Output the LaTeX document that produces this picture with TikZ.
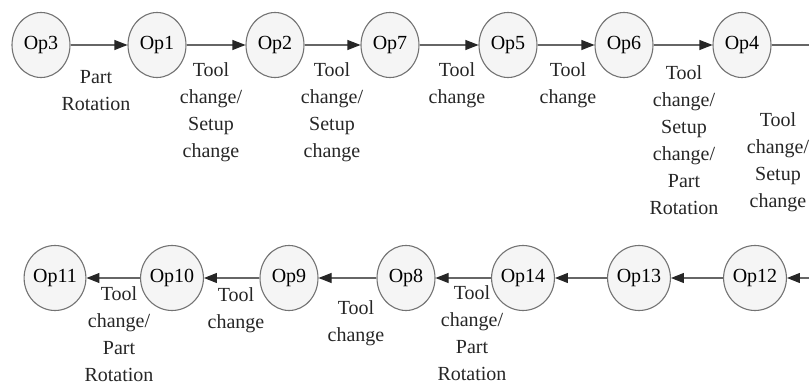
\documentclass[tikz,border=0pt]{standalone}
\usepackage{fontspec}
\setmainfont{Liberation Serif}
\newfontfamily\diagfont{Liberation Serif}
\usetikzlibrary{shapes.geometric,arrows.meta}
\tikzset{
  opnode/.style={ellipse, draw=black!55, line width=1.1pt, fill=black!4,
    minimum width=58pt, minimum height=65pt, inner sep=0pt,
    font=\diagfont\fontsize{20}{24}\selectfont},
  flow/.style={draw=black!60, line width=1.1pt,
    -{Triangle[length=13pt,width=10pt,color=black!85,fill=black!85]}},
  plain/.style={draw=black!60, line width=1.1pt},
  lbl/.style={anchor=north, align=center, inner sep=0pt, text=black!85,
    font=\diagfont\fontsize{20}{27}\selectfont}
}
\begin{document}
\begin{tikzpicture}[x=1pt,y=-1pt]
  \useasboundingbox (0,0) rectangle (809,387);

  % upper row of operations
  \node[opnode] (op3) at (41,45)  {Op3};
  \node[opnode] (op1) at (157,45) {Op1};
  \node[opnode] (op2) at (275,45) {Op2};
  \node[opnode] (op7) at (390,45) {Op7};
  \node[opnode] (op5) at (508,45) {Op5};
  \node[opnode] (op6) at (624,45) {Op6};
  \node[opnode] (op4) at (742,45) {Op4};
  \coordinate (outR) at (809,45);

  % lower row of operations
  \node[opnode] (op11) at (55,278)  {Op11};
  \node[opnode] (op10) at (172,278) {Op10};
  \node[opnode] (op9)  at (289,278) {Op9};
  \node[opnode] (op8)  at (406,278) {Op8};
  \node[opnode] (op14) at (523,278) {Op14};
  \node[opnode] (op13) at (639,278) {Op13};
  \node[opnode] (op12) at (755,278) {Op12};
  \coordinate (inR) at (809,278);

  % connectors
  \draw[flow] (op3) -- (op1);
  \draw[flow] (op1) -- (op2);
  \draw[flow] (op2) -- (op7);
  \draw[flow] (op7) -- (op5);
  \draw[flow] (op5) -- (op6);
  \draw[flow] (op6) -- (op4);
  \draw[plain] (op4) -- (outR);

  \draw[flow] (inR) -- (op12);
  \draw[flow] (op12) -- (op13);
  \draw[flow] (op13) -- (op14);
  \draw[flow] (op14) -- (op8);
  \draw[flow] (op8) -- (op9);
  \draw[flow] (op9) -- (op10);
  \draw[flow] (op10) -- (op11);

  % transition labels, upper row
  \node[lbl] (t1) at (96,70)  {Part\\Rotation};
  \node[lbl] (t2) at (211,62) {Tool\\change/\\Setup\\change};
  \node[lbl] (t3) at (332,62) {Tool\\change/\\Setup\\change};
  \node[lbl] (t4) at (457,62) {Tool\\change};
  \node[lbl] (t5) at (568,62) {Tool\\change};
  \node[lbl] (t6) at (684,65) {Tool\\change/\\Setup\\change/\\Part\\Rotation};
  \node[lbl] (t7) at (778,112) {Tool\\change/\\Setup\\change};

  % transition labels, lower row
  \node[lbl] (b1) at (119,286) {Tool\\change/\\Part\\Rotation};
  \node[lbl] (b2) at (236,287) {Tool\\change};
  \node[lbl] (b3) at (356,300) {Tool\\change};
  \node[lbl] (b4) at (472,285) {Tool\\change/\\Part\\Rotation};
\end{tikzpicture}
\end{document}
